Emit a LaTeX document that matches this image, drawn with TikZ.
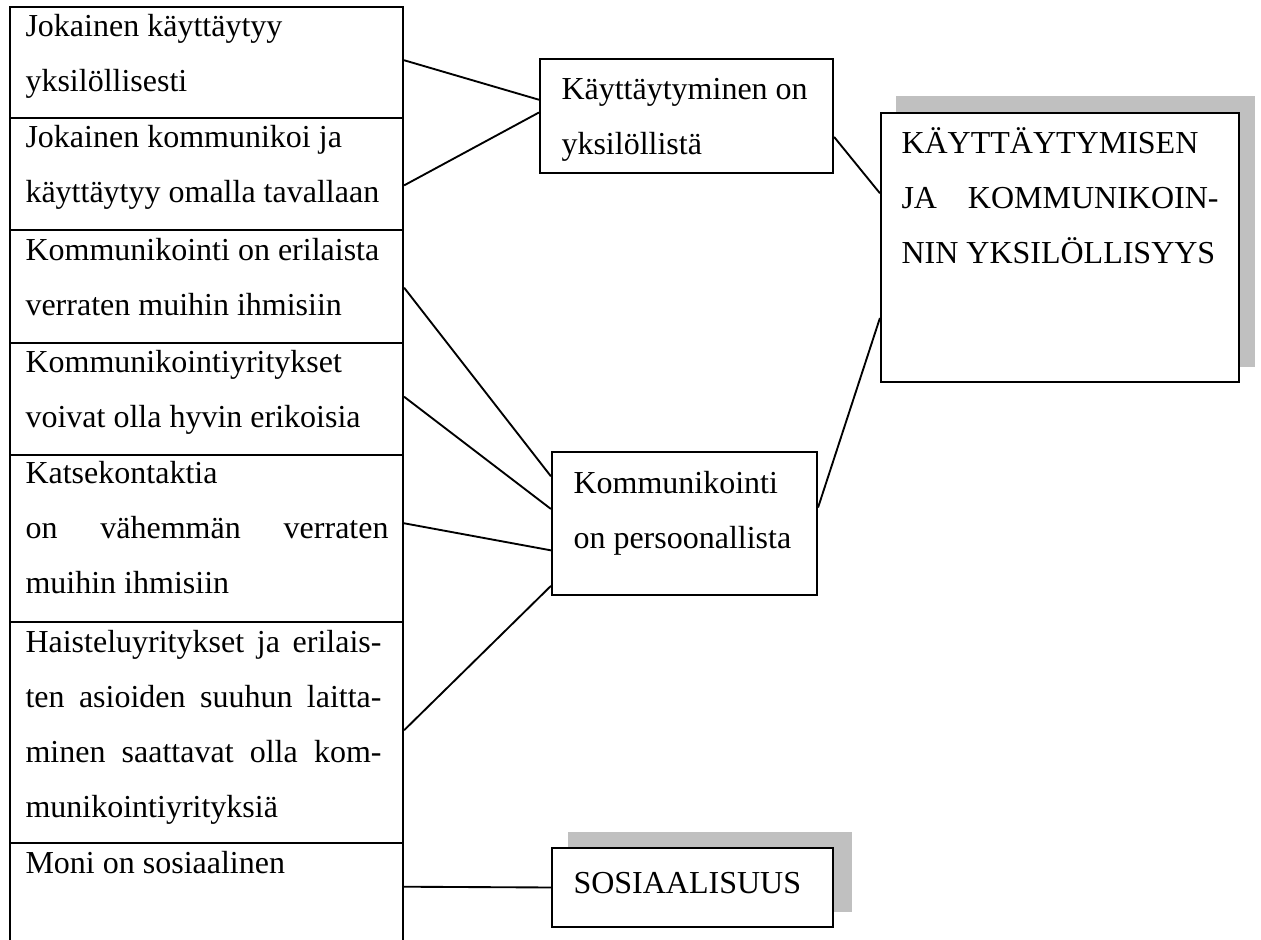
\documentclass[tikz,border=0pt]{standalone}
\usepackage{fontspec}
\setmainfont{Liberation Serif}
\usetikzlibrary{calc,fit}
\definecolor{shade}{RGB}{192,192,192}
\newcommand\jline[2]{\makebox[#1][s]{#2}}
\begin{document}
\begin{tikzpicture}[x=0.375pt,y=-0.375pt,
  box/.style={draw,line width=0.8pt,inner sep=0pt,fill=white},
  shadowbox/.style={fill=shade,draw=none,inner sep=0pt},
  txt/.style={font=\fontsize{12}{20.625}\selectfont,align=left,inner sep=0pt,anchor=north west},
  link/.style={line width=0.7pt}]
\clip (0,0) rectangle (1261,940);
% left column
\node[box,fit={(10,7) (403,118)}] (r1) {};
\node[box,fit={(10,118) (403,230)}] (r2) {};
\node[box,fit={(10,230) (403,343)}] (r3) {};
\node[box,fit={(10,343) (403,455)}] (r4) {};
\node[box,fit={(10,455) (403,622)}] (r5) {};
\node[box,fit={(10,622) (403,843)}] (r6) {};
\node[box,fit={(10,843) (403,960)}] (r7) {};
\node[txt] (t1) at (25,4) {\rule{0pt}{12pt}Jokainen käyttäytyy\\yksilöllisesti};
\node[txt] (t2) at (25,115) {\rule{0pt}{12pt}Jokainen kommunikoi ja\\käyttäytyy omalla tavallaan};
\node[txt] (t3) at (25,228) {\rule{0pt}{12pt}Kommunikointi on erilaista\\verraten muihin ihmisiin};
\node[txt] (t4) at (25,340) {\rule{0pt}{12pt}Kommunikointiyritykset\\voivat olla hyvin erikoisia};
\node[txt] (t5) at (25,451) {\rule{0pt}{12pt}Katsekontaktia\\\jline{136.125pt}{on vähemmän verraten}\\muihin ihmisiin};
\node[txt] (t6) at (25,620) {\rule{0pt}{12pt}\jline{133.5pt}{Haisteluyritykset ja erilais-}\\\jline{133.5pt}{ten asioiden suuhun laitta-}\\\jline{133.5pt}{minen saattavat olla kom-}\\munikointiyrityksiä};
\node[txt] (t7) at (25,841) {\rule{0pt}{12pt}Moni on sosiaalinen};
% middle boxes
\node[box,fit={(540,59) (833,173)}] (k1) {};
\node[txt] (tk1) at (561,67) {\rule{0pt}{12pt}Käyttäytyminen on\\yksilöllistä};
\node[box,fit={(552,452) (817,595)}] (k2) {};
\node[txt] (tk2) at (573,461) {\rule{0pt}{12pt}Kommunikointi\\on persoonallista};
\node[shadowbox,fit={(568,832) (852,912)}] (ss) {};
\node[box,fit={(552,848) (833,927)}] (s) {};
\node[txt] (ts) at (573,861) {\rule{0pt}{12pt}SOSIAALISUUS};
% big box
\node[shadowbox,fit={(896,96) (1255,367)}] (bs) {};
\node[box,fit={(881,113) (1239,382)}] (b) {};
\node[txt] (tb) at (901,121) {\rule{0pt}{12pt}KÄYTTÄYTYMISEN\\\jline{118.9pt}{JA KOMMUNIKOIN-}\\NIN YKSILÖLLISYYS};
% connectors
\draw[link] ($(r1.north east)!0.48!(r1.south east)$) -- ($(k1.north west)!0.36!(k1.south west)$);
\draw[link] ($(r2.north east)!0.60!(r2.south east)$) -- ($(k1.north west)!0.47!(k1.south west)$);
\draw[link] ($(k1.north east)!0.68!(k1.south east)$) -- ($(b.north west)!0.30!(b.south west)$);
\draw[link] ($(r3.north east)!0.51!(r3.south east)$) -- ($(k2.north west)!0.175!(k2.south west)$);
\draw[link] ($(r4.north east)!0.48!(r4.south east)$) -- ($(k2.north west)!0.40!(k2.south west)$);
\draw[link] ($(r5.north east)!0.41!(r5.south east)$) -- ($(k2.north west)!0.685!(k2.south west)$);
\draw[link] ($(r6.north east)!0.49!(r6.south east)$) -- ($(k2.north west)!0.93!(k2.south west)$);
\draw[link] ($(k2.north east)!0.39!(k2.south east)$) -- ($(b.north west)!0.76!(b.south west)$);
\draw[link] ($(r7.north east)!0.376!(r7.south east)$) -- (s.west);
\end{tikzpicture}
\end{document}
